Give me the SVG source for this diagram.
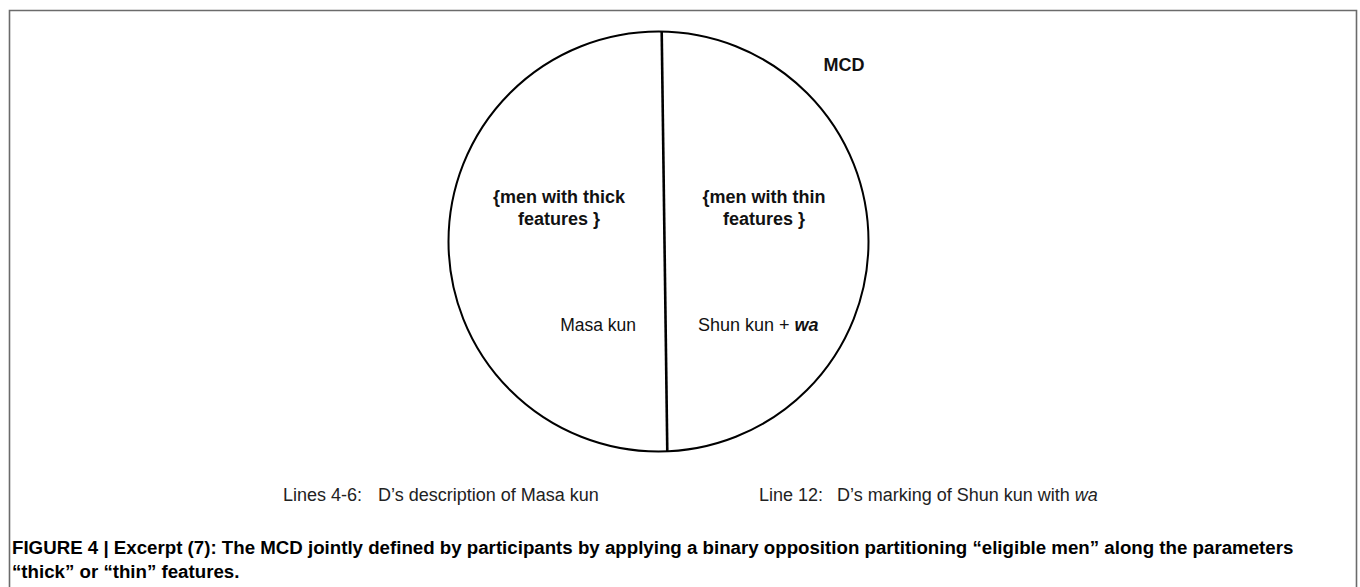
<svg xmlns="http://www.w3.org/2000/svg" width="1360" height="587" viewBox="0 0 1360 587">
<style>
.frame{fill:none;stroke:#6b6b6b;stroke-width:1.6}
.ring{fill:none;stroke:#000;stroke-width:2}
.div{stroke:#000;stroke-width:2.6}
.b{font-family:"Liberation Sans",Arial,sans-serif;font-weight:bold;fill:#111}
.r{font-family:"Liberation Sans",Arial,sans-serif;fill:#111}
.lbl{font-family:"Liberation Sans",Arial,sans-serif;fill:#222}
.cap{font-family:"Liberation Sans",Arial,sans-serif;font-weight:bold;fill:#000}
</style>
<rect width="1360" height="587" fill="#fff"/>
<path class="frame" d="M9.5 600 V10.5 H1356.5 V600"/>
<g id="mcd">
  <circle class="ring" cx="658.5" cy="241.5" r="210"/>
  <text class="b" x="844" y="71" font-size="18" text-anchor="middle">MCD</text>
</g>
<g id="connectors">
  <line class="div" x1="661.7" y1="31.5" x2="667.3" y2="451.5"/>
</g>
<g id="thick">
  <text class="b" x="559" y="203" font-size="18" text-anchor="middle">{men with thick</text>
  <text class="b" x="559" y="225" font-size="18" text-anchor="middle">features }</text>
</g>
<g id="thin">
  <text class="b" x="764" y="203" font-size="18" text-anchor="middle">{men with thin</text>
  <text class="b" x="764" y="225" font-size="18" text-anchor="middle">features }</text>
</g>
<g id="masa">
  <text class="r" x="636" y="331" font-size="17.5" text-anchor="end">Masa kun</text>
</g>
<g id="shun">
  <text class="r" x="698" y="331" font-size="18">Shun kun + <tspan font-weight="bold" font-style="italic">wa</tspan></text>
</g>
<g id="labels">
  <text class="lbl" x="283" y="501" font-size="18">Lines 4-6:</text>
  <text class="lbl" x="378" y="501" font-size="18">D’s description of Masa kun</text>
  <text class="lbl" x="759" y="501" font-size="18">Line 12:</text>
  <text class="lbl" x="837" y="501" font-size="18">D’s marking of Shun kun with <tspan font-style="italic">wa</tspan></text>
</g>
<g id="caption">
  <text class="cap" x="12" y="554" font-size="18.7">FIGURE 4 | Excerpt (7): The MCD jointly defined by participants by applying a binary opposition partitioning “eligible men” along the parameters</text>
  <text class="cap" x="12" y="578" font-size="18.7">“thick” or “thin” features.</text>
</g>
</svg>
